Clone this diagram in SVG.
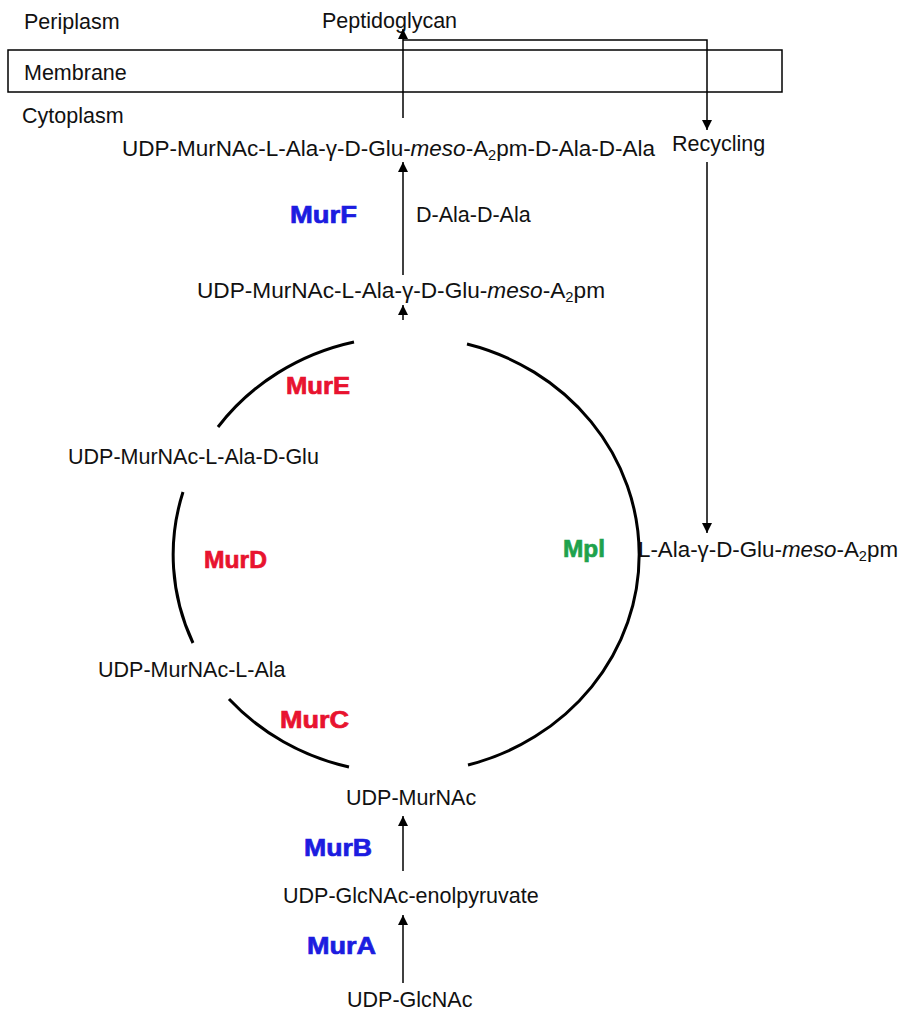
<svg xmlns="http://www.w3.org/2000/svg" width="899" height="1011" viewBox="0 0 899 1011">
<defs>
<marker id="ah" viewBox="0 0 10 10" refX="10" refY="5" markerWidth="10" markerHeight="10" markerUnits="userSpaceOnUse" orient="auto">
<path d="M0,0 L10,5 L0,10 z" fill="#000"/>
</marker>
<style>
text{font-family:"Liberation Sans",Arial,sans-serif;fill:#111;}
.t{font-size:21.5px;}
.e{font-size:23.5px;font-weight:bold;stroke-width:0.7px;}
.blue{fill:#1c1ce0;stroke:#1c1ce0;}
.red{fill:#e8132f;stroke:#e8132f;}
.green{fill:#1ea24c;stroke:#1ea24c;}
.sub{font-size:14px;}
.arc{fill:none;stroke:#000;stroke-width:3;}
.ln{fill:none;stroke:#000;stroke-width:1.5;}
</style>
</defs>
<rect width="899" height="1011" fill="#fff"/>
<g id="membrane">
<rect x="8" y="50" width="774" height="42" fill="none" stroke="#000" stroke-width="1.5"/>
<text class="t" x="24" y="80">Membrane</text>
</g>
<g id="periplasm"><text class="t" x="24" y="29">Periplasm</text></g>
<g id="cytoplasm"><text class="t" x="22" y="123">Cytoplasm</text></g>
<g id="peptidoglycan"><text class="t" x="322" y="28">Peptidoglycan</text></g>
<g id="recycling"><text class="t" x="672" y="151">Recycling</text></g>
<g id="udp-pentapeptide"><text class="t" x="122" y="156" textLength="533" lengthAdjust="spacingAndGlyphs">UDP-MurNAc-L-Ala-γ-D-Glu-<tspan font-style="italic">meso</tspan>-A<tspan class="sub" dy="4">2</tspan><tspan dy="-4">pm-D-Ala-D-Ala</tspan></text></g>
<g id="murf"><text class="e blue" x="290" y="223" textLength="67" lengthAdjust="spacingAndGlyphs">MurF</text></g>
<g id="dala"><text class="t" x="416" y="222">D-Ala-D-Ala</text></g>
<g id="udp-tripeptide"><text class="t" x="197" y="298" textLength="408" lengthAdjust="spacingAndGlyphs">UDP-MurNAc-L-Ala-γ-D-Glu-<tspan font-style="italic">meso</tspan>-A<tspan class="sub" dy="4">2</tspan><tspan dy="-4">pm</tspan></text></g>
<g id="mure"><text class="e red" x="286" y="394" textLength="64" lengthAdjust="spacingAndGlyphs">MurE</text></g>
<g id="udp-dipeptide"><text class="t" x="68" y="464">UDP-MurNAc-L-Ala-D-Glu</text></g>
<g id="murd"><text class="e red" x="204" y="568" textLength="63" lengthAdjust="spacingAndGlyphs">MurD</text></g>
<g id="mpl"><text class="e green" x="563" y="557" textLength="42" lengthAdjust="spacingAndGlyphs">Mpl</text></g>
<g id="tripeptide"><text class="t" x="638" y="557" textLength="260" lengthAdjust="spacingAndGlyphs">L-Ala-γ-D-Glu-<tspan font-style="italic">meso</tspan>-A<tspan class="sub" dy="4">2</tspan><tspan dy="-4">pm</tspan></text></g>
<g id="udp-ala"><text class="t" x="98" y="677">UDP-MurNAc-L-Ala</text></g>
<g id="murc"><text class="e red" x="280" y="728" textLength="69" lengthAdjust="spacingAndGlyphs">MurC</text></g>
<g id="udp-murnac"><text class="t" x="346" y="805">UDP-MurNAc</text></g>
<g id="murb"><text class="e blue" x="304" y="856" textLength="68" lengthAdjust="spacingAndGlyphs">MurB</text></g>
<g id="enolpyruvate"><text class="t" x="283" y="903">UDP-GlcNAc-enolpyruvate</text></g>
<g id="mura"><text class="e blue" x="307" y="954" textLength="69" lengthAdjust="spacingAndGlyphs">MurA</text></g>
<g id="udp-glcnac"><text class="t" x="347" y="1007">UDP-GlcNAc</text></g>
<g id="connectors">
<path class="arc" d="M354,342 A232,218 0 0 0 218,427"/>
<path class="arc" d="M183,492 A232,218 0 0 0 193,643"/>
<path class="arc" d="M229,699 A232,218 0 0 0 349,767"/>
<path class="arc" d="M467,344 A232,218 0 0 1 468,765"/>
<line class="ln" x1="403" y1="983" x2="403" y2="915" marker-end="url(#ah)"/>
<line class="ln" x1="403" y1="871" x2="403" y2="816" marker-end="url(#ah)"/>
<line class="ln" x1="403" y1="320" x2="403" y2="305" marker-end="url(#ah)"/>
<line class="ln" x1="403" y1="275" x2="403" y2="162" marker-end="url(#ah)"/>
<line class="ln" x1="403" y1="118" x2="403" y2="29" marker-end="url(#ah)"/>
<polyline class="ln" points="403,40 707,40 707,130" marker-end="url(#ah)"/>
<line class="ln" x1="707" y1="162" x2="707" y2="533" marker-end="url(#ah)"/>
</g>
</svg>
